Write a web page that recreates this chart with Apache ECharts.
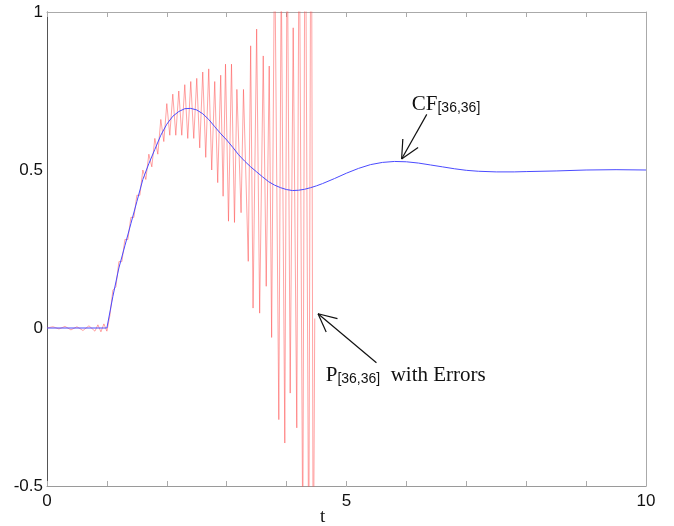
<!DOCTYPE html>
<html><head><meta charset="utf-8">
<script src="https://cdn.jsdelivr.net/npm/echarts@6/dist/echarts.min.js"></script>
<style>html,body{margin:0;padding:0;background:#fff}#c{width:674px;height:526px}</style>
</head><body><div id="c"></div>
<script>
// CF[36,36] curve (blue)
const cfT = [0,0.5,0.95,1.0,1.1,1.2,1.3,1.4,1.5,1.6,1.7,1.8,1.9,2.0,2.1,2.2,2.3,2.4,2.5,2.6,2.7,2.8,2.9,3.0,3.1,3.2,3.3,3.4,3.5,3.6,3.7,3.8,3.9,4.0,4.1,4.2,4.3,4.4,4.5,4.6,4.8,5.0,5.2,5.4,5.6,5.8,6.0,6.2,6.4,6.6,6.8,7.0,7.2,7.5,7.8,8.0,8.5,9.0,9.5,10];
const cfY = [0,0,0,0.0,0.10,0.19,0.26,0.33,0.40,0.47,0.52,0.565,0.61,0.645,0.67,0.685,0.694,0.695,0.69,0.678,0.66,0.637,0.615,0.595,0.572,0.548,0.528,0.51,0.494,0.478,0.463,0.452,0.444,0.438,0.435,0.436,0.439,0.444,0.45,0.457,0.473,0.49,0.505,0.517,0.524,0.527,0.526,0.522,0.516,0.51,0.504,0.499,0.496,0.494,0.494,0.495,0.497,0.5,0.501,0.5];
// P[36,36] with errors (red)
const pT = [0,0.1,0.2,0.3,0.4,0.5,0.6,0.7,0.8,0.85,0.9,0.95,1.0,1.05,1.10,1.15,1.20,1.25,1.30,1.35,1.40,1.45,1.50,1.55,1.60,1.65,1.70,1.75,1.80,1.85,1.90,1.95,2.00,2.05,2.10,2.15,2.20,2.25,2.30,2.35,2.40,2.45,2.50,2.55,2.60,2.65,2.70,2.75,2.80,2.85,2.90,2.94,2.98,3.03,3.08,3.13,3.17,3.24,3.28,3.36,3.40,3.44,3.50,3.55,3.61,3.66,3.71,3.75,3.80,3.87,3.91,3.97,4.01,4.06,4.11,4.17,4.21,4.27,4.31,4.37,4.41,4.445,4.47];
const pY = [0,0.004,-0.003,0.005,-0.006,0.004,-0.008,0.007,-0.01,0.01,-0.012,0.013,-0.01,0.04,0.12,0.13,0.21,0.21,0.28,0.28,0.35,0.35,0.42,0.42,0.50,0.47,0.55,0.51,0.60,0.55,0.66,0.59,0.71,0.61,0.74,0.61,0.75,0.61,0.77,0.60,0.78,0.60,0.79,0.57,0.81,0.54,0.82,0.50,0.78,0.46,0.80,0.417,0.835,0.338,0.835,0.334,0.755,0.365,0.755,0.211,0.893,0.063,0.946,0.047,0.861,0.132,0.829,-0.03,1.25,-0.29,1.15,-0.364,1.3,-0.206,0.95,-0.316,1.4,-0.7,1.6,-0.8,1.8,-0.9,0.03];
const xLabels = [0,5,10];
const yLabels = [-0.5,0,0.5,1];

const zip = (a,b) => a.map((v,i)=>[v,b[i]]);
const chart = echarts.init(document.getElementById('c'), null, {renderer:'canvas'});
const axisFont = {color:'#111', fontSize:17, fontFamily:'Liberation Sans, Arial, sans-serif'};
chart.setOption({
  animation:false,
  backgroundColor:'#fff',
  grid:{left:47, top:12, right:28, bottom:40},
  xAxis:[
    {type:'value', min:0, max:10, interval:1, position:'bottom',
     axisLine:{onZero:false, lineStyle:{color:'#9a9a9a', width:1}},
     axisTick:{inside:true, length:5, lineStyle:{color:'#aaa'}},
     axisLabel:Object.assign({margin:7, showMinLabel:true, showMaxLabel:true,
       formatter:v=> xLabels.includes(v)? String(v):''}, axisFont),
     splitLine:{show:false}},
    {type:'value', min:0, max:10, interval:1, position:'top',
     axisLine:{onZero:false, lineStyle:{color:'#aaa', width:1}},
     axisTick:{inside:true, length:5, lineStyle:{color:'#aaa'}},
     axisLabel:{show:false}, splitLine:{show:false}}
  ],
  yAxis:[
    {type:'value', min:-0.5, max:1, interval:0.5, position:'left',
     axisLine:{show:true, onZero:false, lineStyle:{color:'#555', width:1}},
     axisTick:{show:false},
     axisLabel:Object.assign({margin:4, showMinLabel:true, showMaxLabel:true,
       formatter:v=> yLabels.includes(v)? String(v):''}, axisFont),
     splitLine:{show:false}},
    {type:'value', min:-0.5, max:1, interval:0.5, position:'right',
     axisLine:{show:true, onZero:false, lineStyle:{color:'#aaa', width:1}},
     axisTick:{show:false}, axisLabel:{show:false}, splitLine:{show:false}}
  ],
  series:[
    {type:'line', data:zip(pT,pY), showSymbol:false, clip:true,
     lineStyle:{color:'#ff4a4a', width:1, opacity:0.5}, z:2},
    {type:'line', data:zip(cfT,cfY), showSymbol:false, clip:true,
     lineStyle:{color:'#4b4bff', width:1}, z:3}
  ]
});

function px(p){ return chart.convertToPixel({gridIndex:0}, p); }
function arrow(tail, tip){
  const a = px(tail), b = px(tip);
  const dx = a[0]-b[0], dy = a[1]-b[1], L = Math.hypot(dx,dy);
  const ux = dx/L, uy = dy/L, hl = 20, th = 26*Math.PI/180;
  const r = (s)=>[b[0] + hl*(ux*Math.cos(s) - uy*Math.sin(s)), b[1] + hl*(ux*Math.sin(s) + uy*Math.cos(s))];
  const h1 = r(th), h2 = r(-th);
  const ls = {stroke:'#111', lineWidth:1.2};
  return [
    {type:'line', shape:{x1:a[0],y1:a[1],x2:b[0],y2:b[1]}, style:ls, z:10},
    {type:'line', shape:{x1:b[0],y1:b[1],x2:h1[0],y2:h1[1]}, style:ls, z:10},
    {type:'line', shape:{x1:b[0],y1:b[1],x2:h2[0],y2:h2[1]}, style:ls, z:10}
  ];
}
const rich = {
  a:{fontFamily:'Liberation Serif, Times New Roman, serif', fontSize:21, fill:'#111', verticalAlign:'bottom', lineHeight:22},
  b:{fontFamily:'Liberation Sans, Arial, sans-serif', fontSize:14, fill:'#111', verticalAlign:'bottom', lineHeight:22}
};
const cfPos = px([6.09, 0.708]);
const pPos = px([4.653, -0.148]);
chart.setOption({graphic:[
  ...arrow([6.34, 0.676], [5.92, 0.535]),
  ...arrow([5.50, -0.11], [4.525, 0.045]),
  {type:'text', x:cfPos[0], y:cfPos[1], style:{text:'{a|CF}{b|[36,36]}', rich:rich, verticalAlign:'middle', align:'left'}, z:10},
  {type:'text', x:pPos[0], y:pPos[1], style:{text:'{a|P}{b|[36,36]}{a|  with Errors}', rich:rich, verticalAlign:'middle', align:'left'}, z:10},
  {type:'text', x:322.7, y:517, style:{text:'t', fontFamily:'Liberation Serif, Times New Roman, serif', fontSize:19, fill:'#111', align:'center', verticalAlign:'middle'}, z:10}
]});
</script>
</body></html>
